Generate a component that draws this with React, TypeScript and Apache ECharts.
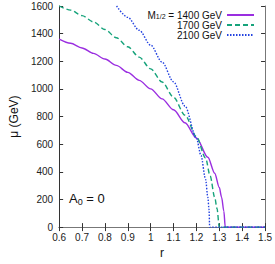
import React, { useEffect, useRef } from "react";
import * as echarts from "echarts";

// r values and mu (GeV)
const rPurple = [0.6, 0.65, 0.7, 0.75, 0.8, 0.85, 0.9, 0.95, 1.0, 1.05, 1.1, 1.15, 1.2, 1.25, 1.28, 1.3, 1.31, 1.32, 1.326, 1.4, 1.5];
const muPurple = [1360, 1330, 1296, 1257, 1216, 1170, 1120, 1062, 1000, 928, 849, 755, 645, 505, 390, 287, 216, 115, 0, 0, 0];

const rGreen = [0.6, 0.65, 0.7, 0.75, 0.8, 0.85, 0.9, 0.95, 1.0, 1.05, 1.1, 1.15, 1.2, 1.24, 1.26, 1.28, 1.29, 1.3, 1.4, 1.5];
const muGreen = [1600, 1570, 1530, 1485, 1430, 1370, 1305, 1230, 1145, 1050, 940, 810, 655, 500, 370, 215, 135, 0, 0, 0];

const rBlue = [0.851, 0.9, 0.95, 1.0, 1.05, 1.1, 1.15, 1.2, 1.22, 1.24, 1.25, 1.255, 1.258, 1.3, 1.4, 1.5];
const muBlue = [1600, 1518, 1424, 1317, 1194, 1051, 876, 643, 518, 346, 215, 128, 0, 0, 0, 0];

const seriesNames = ["1400 GeV", "1700 GeV", "2100 GeV"];
const xTicks = { min: 0.6, max: 1.5, interval: 0.1 };
const yTicks = { min: 0, max: 1600, interval: 200 };

const FONT = "Liberation Sans";

function pairs(xs: number[], ys: number[]) {
  return xs.map((x, i) => [x, ys[i]]);
}

export default function App() {
  const ref = useRef<HTMLDivElement>(null);
  useEffect(() => {
    if (!ref.current) return;
    const chart = echarts.init(ref.current, undefined, { renderer: "svg" });
    const axisColor = "#333";
    const tickStyle = { show: true, inside: true, length: 4, lineStyle: { color: axisColor, width: 1 } };
    const legendBase = {
      orient: "vertical",
      align: "right",
      itemWidth: 27,
      itemHeight: 8,
      itemGap: 0,
      padding: 0,
      selectedMode: false,
      itemStyle: { opacity: 0 },
      textStyle: { fontSize: 10, lineHeight: 10, fontFamily: FONT, color: "#111" },
    };
    chart.setOption({
      animation: false,
      textStyle: { fontFamily: FONT },
      grid: { left: 49, right: 9, top: 6, bottom: 33, show: false },
      legend: [
        {
          ...legendBase,
          data: [seriesNames[0]],
          right: 20,
          top: 10,
          formatter: (n: string) => `{m|M}{s|1/2}{m| = ${n}}`,
          textStyle: {
            fontSize: 10,
            fontFamily: FONT,
            color: "#111",
            rich: {
              m: { fontSize: 10, lineHeight: 10, fontFamily: FONT, color: "#111" },
              s: { fontSize: 7, lineHeight: 3, verticalAlign: "bottom", fontFamily: FONT, color: "#111" },
            },
          },
        },
        { ...legendBase, data: [seriesNames[1]], right: 20, top: 20 },
        { ...legendBase, data: [seriesNames[2]], right: 20, top: 30 },
      ],
      xAxis: [
        {
          type: "value",
          min: xTicks.min,
          max: xTicks.max,
          interval: xTicks.interval,
          name: "r",
          nameLocation: "middle",
          nameGap: 17,
          nameTextStyle: { fontSize: 12, color: "#111", fontFamily: FONT },
          axisLine: { show: true, lineStyle: { color: "#111", width: 1.2 } },
          axisTick: tickStyle,
          splitLine: { show: false },
          axisLabel: {
            fontSize: 10,
            color: "#222",
            margin: 5,
            fontFamily: FONT,
            formatter: (v: number) => (Math.round(v * 10) / 10).toString(),
          },
        },
        {
          type: "value",
          position: "top",
          min: xTicks.min,
          max: xTicks.max,
          interval: xTicks.interval,
          axisLine: { show: true, lineStyle: { color: "#777", width: 1 } },
          axisTick: tickStyle,
          axisLabel: { show: false },
          splitLine: { show: false },
        },
      ],
      yAxis: [
        {
          type: "value",
          min: yTicks.min,
          max: yTicks.max,
          interval: yTicks.interval,
          name: "μ (GeV)",
          nameLocation: "middle",
          nameGap: 31,
          nameTextStyle: { fontSize: 12, color: "#111", fontFamily: FONT },
          axisLine: { show: true, lineStyle: { color: "#333", width: 1 } },
          axisTick: tickStyle,
          splitLine: { show: false },
          axisLabel: {
            fontSize: 10,
            color: "#222",
            margin: 6,
            fontFamily: FONT,
            formatter: (v: number) => String(v),
          },
        },
        {
          type: "value",
          position: "right",
          min: yTicks.min,
          max: yTicks.max,
          interval: yTicks.interval,
          axisLine: { show: true, lineStyle: { color: "#777", width: 1 } },
          axisTick: tickStyle,
          axisLabel: { show: false },
          splitLine: { show: false },
        },
      ],
      graphic: [
        {
          type: "text",
          left: 69,
          top: 192,
          style: {
            text: "{a|A}{s|0}{a| = 0}",
            rich: {
              a: { fontSize: 13, lineHeight: 16, fontFamily: FONT, fill: "#111" },
              s: { fontSize: 9, lineHeight: 5, verticalAlign: "bottom", fontFamily: FONT, fill: "#111" },
            },
          },
        },
      ],
      series: [
        {
          name: seriesNames[0],
          type: "line",
          data: pairs(rPurple, muPurple),
          showSymbol: false,
          symbol: "none",
          smooth: 0.3,
          smoothMonotone: "x",
          clip: false,
          z: 3,
          lineStyle: { color: "#9a2ee0", width: 1.4, type: "solid" },
          itemStyle: { color: "#9a2ee0" },
        },
        {
          name: seriesNames[1],
          type: "line",
          data: pairs(rGreen, muGreen),
          showSymbol: false,
          symbol: "none",
          smooth: 0.3,
          smoothMonotone: "x",
          clip: false,
          z: 3,
          lineStyle: { color: "#16a37b", width: 1.4, type: [5, 3] },
          itemStyle: { color: "#16a37b" },
        },
        {
          name: seriesNames[2],
          type: "line",
          data: pairs(rBlue, muBlue),
          showSymbol: false,
          symbol: "none",
          smooth: 0.3,
          smoothMonotone: "x",
          clip: false,
          z: 3,
          lineStyle: { color: "#2342e0", width: 1.4, type: [1.5, 1.5] },
          itemStyle: { color: "#2342e0" },
        },
      ],
    });
    return () => chart.dispose();
  }, []);
  return (
    <div
      ref={ref}
      style={{ position: "fixed", left: 0, top: 0, width: 275, height: 264, background: "#fff" }}
    />
  );
}
